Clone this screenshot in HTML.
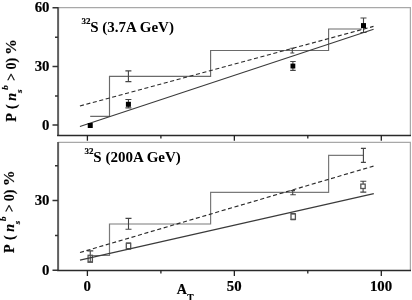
<!DOCTYPE html>
<html><head><meta charset="utf-8">
<style>
html,body{margin:0;padding:0;background:#fff;width:412px;height:300px;overflow:hidden}
svg{display:block}
text{font-family:"Liberation Serif",serif;font-weight:bold;fill:#000;stroke:#000;stroke-width:0.18px}
.ns{stroke:none}
</style></head>
<body>
<svg width="412" height="300" viewBox="0 0 412 300">
<defs><filter id="bl" filterUnits="userSpaceOnUse" x="0" y="0" width="412" height="300"><feGaussianBlur stdDeviation="0.35"/></filter></defs>
<g filter="url(#bl)">
<rect x="0" y="0" width="412" height="300" fill="#fff"/>
<!-- ===== TOP PANEL ===== -->
<g fill="none">
  <path d="M58.1 7.5 H410.4 V135.3" stroke="#a8a8a8" stroke-width="1.25"/>
  <path d="M58.1 7 V136" stroke="#5e5e5e" stroke-width="2"/>
  <path d="M57.1 135.4 H411" stroke="#2a2a2a" stroke-width="1.5"/>
  <!-- y ticks -->
  <path d="M52.5 7.7 H58 M52.5 66.4 H58 M52.5 125.1 H58 M55 37.2 H58 M55 96 H58" stroke="#333" stroke-width="1.5"/>
  <!-- x ticks -->
  <path d="M87.4 135.3 V140.8 M234.35 135.3 V140.8 M381.3 135.3 V140.8 M160.9 135.3 V138.6 M307.8 135.3 V138.6" stroke="#222" stroke-width="1.3"/>
  <!-- step -->
  <path d="M90.2 116.4 H109.5 V76.4 H210.6 V50.5 H328.6 V29 H362" stroke="#6a6a6a" stroke-width="1.15"/>
  <!-- step error bars -->
  <path d="M128.4 70.9 V81.6 M125.4 70.9 H131.4 M125.4 81.6 H131.4
           M292.3 48.3 V53 M290.3 48.3 H294.3 M290.3 53 H294.3" stroke="#444" stroke-width="1.1"/>
  <!-- marker error bars -->
  <path d="M128.4 99.5 V107.9 M125.4 99.5 H131.4 M125.4 107.9 H131.4
           M292.9 61.5 V70.4 M290.2 61.5 H295.7 M290.2 70.4 H295.7
           M363.5 18 V32.5 M360.5 18 H366.5 M360.5 32.5 H366.5" stroke="#444" stroke-width="1.1"/>
  <!-- fit lines -->
  <path d="M79.9 126.5 L373.6 29.3" stroke="#3a3a3a" stroke-width="1.1"/>
  <path d="M79.9 106.0 L373.5 26.4" stroke="#2a2a2a" stroke-width="1.15" stroke-dasharray="4.1 2.58"/>
</g>
<g fill="#000">
  <rect x="87.75" y="123" width="5" height="5"/>
  <rect x="125.9" y="101.8" width="5" height="5"/>
  <rect x="290.5" y="63.6" width="4.8" height="4.9"/>
  <rect x="361" y="23.1" width="5" height="5"/>
</g>
<text x="49.5" y="11.9" font-size="14.8" text-anchor="end">60</text>
<text x="49.5" y="71.1" font-size="14.8" text-anchor="end">30</text>
<text x="49.5" y="130" font-size="14.8" text-anchor="end">0</text>
<text x="81.5" y="24.3" font-size="9">32</text>
<text class="ns" x="90.2" y="32.3" font-size="15">S (3.7A GeV)</text>

<!-- ===== BOTTOM PANEL ===== -->
<g fill="none">
  <path d="M58.1 142.45 H410.4 V270.4" stroke="#a8a8a8" stroke-width="1.25"/>
  <path d="M58.1 142 V271" stroke="#5e5e5e" stroke-width="2"/>
  <path d="M57.1 270.6 H411" stroke="#2a2a2a" stroke-width="1.5"/>
  <path d="M52.5 270.3 H58 M52.5 200.6 H58 M55 235.45 H58 M55 165.75 H58" stroke="#333" stroke-width="1.5"/>
  <path d="M87.4 270.4 V276 M234.35 270.4 V276 M381.3 270.4 V276 M160.9 270.4 V273.6 M307.8 270.4 V273.6" stroke="#222" stroke-width="1.3"/>
  <path d="M92 255.5 H109.5 V224 H210.6 V192.4 H328.6 V155.4 H363.4" stroke="#7a7a7a" stroke-width="1.2"/>
  <path d="M128.5 218.4 V229.3 M125.5 218.4 H131.5 M125.5 229.3 H131.5
           M292.7 190.6 V194.7 M290.4 190.6 H295 M290.3 194.7 H295.8
           M363.4 148.4 V162.4 M360.9 148.4 H365.9 M360.9 162.4 H365.9" stroke="#444" stroke-width="1.1"/>
  <path d="M90.25 250.9 V262.3 M87.25 250.9 H93.25 M87.6 262.3 H93
           M126 243 H131 M126 249 H131
           M290.6 213.6 H295.6 M290.6 219.6 H295.6
           M363.1 181.25 V192.1 M360.3 181.25 H366.3 M360.3 192.1 H366.3" stroke="#444" stroke-width="1.1"/>
  <g stroke="#555" stroke-width="1.3" fill="#fff">
    <rect x="126.3" y="243.3" width="4.4" height="5.4"/>
    <rect x="291" y="214" width="4.4" height="5.3"/>
    <rect x="360.8" y="184.1" width="4.4" height="4.4"/>
  </g>
  <rect x="88.1" y="255.3" width="4.3" height="6.6" stroke="#555" stroke-width="1.3"/>
  <path d="M80 260.1 L373.8 193.6" stroke="#3a3a3a" stroke-width="1.1"/>
  <path d="M80 252.5 L373.5 166.1" stroke="#2a2a2a" stroke-width="1.15" stroke-dasharray="4.1 2.61"/>
</g>
<text x="49.5" y="205" font-size="14.8" text-anchor="end">30</text>
<text x="49.5" y="275" font-size="14.8" text-anchor="end">0</text>
<text x="84.6" y="153.8" font-size="9">32</text>
<text class="ns" x="93.3" y="161.9" font-size="15">S (200A GeV)</text>

<!-- x labels -->
<text x="87.3" y="291" font-size="14.8" text-anchor="middle">0</text>
<text x="234.2" y="291" font-size="14.8" text-anchor="middle">50</text>
<text x="381" y="291" font-size="14.8" text-anchor="middle">100</text>
<text x="176.7" y="294.2" font-size="14">A<tspan font-size="9.5" dx="0.5" dy="7">T</tspan></text>

<!-- y labels (rotated) -->
<g transform="translate(16,122) rotate(-90)">
  <text font-size="14"><tspan x="0.3" y="0">P</tspan><tspan x="13.1" y="0">(</tspan><tspan x="21.35" y="0" font-style="italic">n</tspan><tspan x="29.06" y="5.5" font-size="9" font-style="italic">s</tspan><tspan x="32.2" y="-8" font-size="9" font-style="italic">b</tspan><tspan x="41" y="0">&gt;</tspan><tspan x="52.6" y="0">0)</tspan><tspan x="67.2" y="0" font-size="15.6">%</tspan></text>
</g>
<g transform="translate(14.4,253.2) rotate(-90)">
  <text font-size="14"><tspan x="0.3" y="0">P</tspan><tspan x="13.1" y="0">(</tspan><tspan x="21.35" y="0" font-style="italic">n</tspan><tspan x="29.06" y="5.5" font-size="9" font-style="italic">s</tspan><tspan x="32.2" y="-8" font-size="9" font-style="italic">b</tspan><tspan x="41" y="0">&gt;</tspan><tspan x="51.9" y="0">0)</tspan><tspan x="67.2" y="0" font-size="15.6">%</tspan></text>
</g>
</g>
</svg>
</body></html>
